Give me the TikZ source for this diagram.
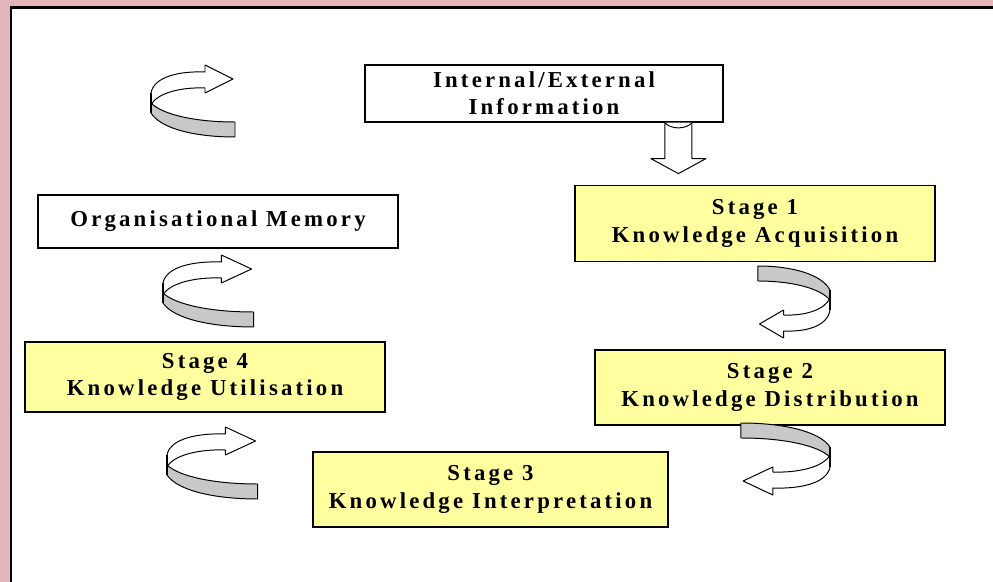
\documentclass[tikz,border=0pt]{standalone}
\usepackage{fontspec}
\newfontfamily\boxfont{Liberation Serif}[LetterSpace=14]
\usetikzlibrary{positioning}
\definecolor{pinkbg}{RGB}{228,182,188}
\definecolor{stageyellow}{RGB}{255,255,160}
\definecolor{ribbongray}{RGB}{200,200,200}

\begin{document}
\begin{tikzpicture}[x=0.25mm, y=-0.25mm,
 font=\boxfont\bfseries\fontsize{16.2}{19.5}\selectfont,
 box/.style={draw, line width=0.9pt, fill=white, align=center, inner sep=2pt, minimum width=90mm},
 stagebox/.style={box, fill=stageyellow, minimum height=19mm},
 hollow/.style={draw, line width=0.7pt, fill=white, line join=round},
 curl/.pic={
  \filldraw[fill=white, line width=0.7pt, line join=round] (0,0) .. controls (3,-17) and (30,-22) .. (54,-21) -- (54,-28) -- (82,-14) -- (54,0) -- (54,-5) .. controls (30,-6) and (6,0) .. (0,12) -- cycle;
  \filldraw[fill=ribbongray, line width=0.7pt, line join=round] (0,10) .. controls (12,22) and (45,29) .. (84,29) -- (84,44) .. controls (45,44) and (10,36) .. (0,20) -- cycle;
  \draw[line width=1.4pt] (0,0) -- (0,20);
 }]

 \useasboundingbox (0,0) rectangle (993,582);
 % --- frame ---
 \fill[pinkbg] (0,0) rectangle (993,582);
 \fill[white] (11,7.5) rectangle (993,582);
 \draw[line width=0.6mm] (11,582) -- (11,7.5) -- (993,7.5);

 % --- boxes ---
 \node[box, minimum width=89.5mm, minimum height=14.25mm] (info) at (544,93.5) {Internal/External\\Information};
 \node[stagebox, minimum width=90mm] (acq) at (755,223.5) {Stage 1\\Knowledge Acquisition};
 \node[box, minimum width=90mm, minimum height=13.25mm] (memory) at (218,221.5) {Organisational Memory};
 \node[stagebox, minimum width=90mm, minimum height=17.5mm] (util) at (205,377) {Stage 4\\Knowledge Utilisation};
 \node[stagebox, minimum width=87.5mm, minimum height=18.75mm] (dist) at (770,387.5) {Stage 2\\Knowledge Distribution};
 \node[stagebox, minimum width=88.75mm, minimum height=18.75mm] (interp) at (490.5,489.5) {Stage 3\\Knowledge Interpretation};

 % --- hollow arrow into stage 1 ---
 \draw[hollow] ([xshift=33.6mm]info.south) ++(-13.5,0) -- ++(0,36) -- ++(-14,0) -- ++(27.5,15) -- ++(27.5,-15) -- ++(-14,0) -- ++(0,-36);
 \draw[line width=0.7pt] ([xshift=30.2mm]info.south) .. controls ++(6,7) and ++(-6,7) .. ([xshift=37mm]info.south);

 % --- curled arrows ---
 \pic at (151,93) {curl};
 \pic[xscale=1.08] at (163,283) {curl};
 \pic[xscale=1.08] at (167,455) {curl};
 \pic[xscale=-0.86, yscale=-1] at (830,310) {curl};
 \pic[xscale=-1.06, yscale=-1] at (830,467) {curl};
\end{tikzpicture}
\end{document}
